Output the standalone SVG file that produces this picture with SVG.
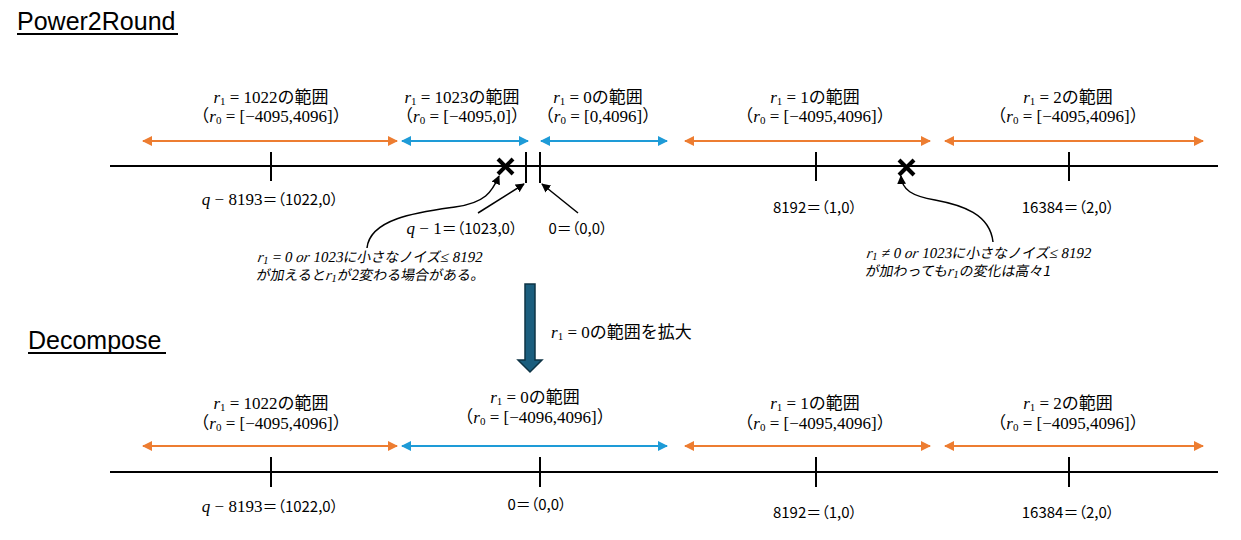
<svg xmlns="http://www.w3.org/2000/svg" width="1241" height="540" viewBox="0 0 1241 540">
<style>
.title{font-family:"Liberation Sans",Arial,sans-serif;font-size:25px;fill:#000}
.ul{stroke:#000;stroke-width:2}
.m{font-family:"Liberation Serif","Noto Sans CJK JP",serif;font-size:17px;fill:#000}
.i{font-style:italic}
.sub{font-size:11px}
.pt{font-family:"Noto Sans CJK JP","Liberation Sans",sans-serif;font-size:15px;fill:#000;font-feature-settings:"palt"}
.jpp{font-family:"Noto Sans CJK JP",sans-serif;font-size:15px;font-feature-settings:"palt"}
.note{font-family:"Liberation Serif","Noto Sans CJK JP",serif;font-size:15px;fill:#000}
.jp{font-family:"Noto Sans CJK JP",sans-serif;font-size:14px}
.axis{stroke:#000;stroke-width:2;fill:none}
.tick{stroke:#000;stroke-width:2}
.org{stroke:#ED7D31;stroke-width:2;fill:none}
.blu{stroke:#1E9BD7;stroke-width:2;fill:none}
.blk{stroke:#000;stroke-width:1.5;fill:none}
.x{stroke:#000;stroke-width:4;stroke-linecap:butt}
</style>
<defs>
<marker id="ao" viewBox="0 0 10 10" refX="9" refY="5" markerWidth="5" markerHeight="5" orient="auto-start-reverse" markerUnits="strokeWidth"><path d="M0,0 L10,5 L0,10 z" fill="#ED7D31"/></marker>
<marker id="ab" viewBox="0 0 10 10" refX="9" refY="5" markerWidth="5" markerHeight="5" orient="auto-start-reverse" markerUnits="strokeWidth"><path d="M0,0 L10,5 L0,10 z" fill="#1E9BD7"/></marker>
<marker id="ak" viewBox="0 0 10 10" refX="9" refY="5" markerWidth="6" markerHeight="6" orient="auto" markerUnits="strokeWidth"><path d="M0,0 L10,5 L0,10 z" fill="#000"/></marker>
</defs>

<g id="title-power2round">
<text class="title" x="17" y="30">Power2Round</text>
<line class="ul" x1="17" y1="34" x2="178" y2="34"/>
</g>
<g id="title-decompose">
<text class="title" x="28" y="349">Decompose</text>
<line class="ul" x1="28" y1="353" x2="166" y2="353"/>
</g>

<g id="top-axis">
<line class="axis" x1="110" y1="166" x2="1218" y2="166"/>
<line class="tick" x1="271" y1="152" x2="271" y2="181"/>
<line class="tick" x1="526" y1="152" x2="526" y2="183"/>
<line class="tick" x1="540" y1="152" x2="540" y2="183"/>
<line class="tick" x1="816" y1="152" x2="816" y2="181"/>
<line class="tick" x1="1069" y1="152" x2="1069" y2="181"/>
</g>
<g id="x-marks">
<line class="x" x1="498" y1="159" x2="513" y2="174"/>
<line class="x" x1="513" y1="159" x2="498" y2="174"/>
<line class="x" x1="899" y1="160" x2="914" y2="175"/>
<line class="x" x1="914" y1="160" x2="899" y2="175"/>
</g>

<g id="top-r1-1022">
<text class="m" x="271" y="103" text-anchor="middle"><tspan class="i">r</tspan><tspan class="sub" dy="2">1</tspan><tspan dy="-2"> = 1022の範囲</tspan><tspan x="271" dy="19">（</tspan><tspan class="i">r</tspan><tspan class="sub" dy="2">0</tspan><tspan dy="-2"> = [−4095,4096]）</tspan></text>
</g>
<g id="top-r1-1023">
<text class="m" x="462" y="103" text-anchor="middle"><tspan class="i">r</tspan><tspan class="sub" dy="2">1</tspan><tspan dy="-2"> = 1023の範囲</tspan><tspan x="462" dy="19">（</tspan><tspan class="i">r</tspan><tspan class="sub" dy="2">0</tspan><tspan dy="-2"> = [−4095,0]）</tspan></text>
</g>
<g id="top-r1-0">
<text class="m" x="598" y="103" text-anchor="middle"><tspan class="i">r</tspan><tspan class="sub" dy="2">1</tspan><tspan dy="-2"> = 0の範囲</tspan><tspan x="598" dy="19">（</tspan><tspan class="i">r</tspan><tspan class="sub" dy="2">0</tspan><tspan dy="-2"> = [0,4096]）</tspan></text>
</g>
<g id="top-r1-1">
<text class="m" x="815" y="103" text-anchor="middle"><tspan class="i">r</tspan><tspan class="sub" dy="2">1</tspan><tspan dy="-2"> = 1の範囲</tspan><tspan x="815" dy="19">（</tspan><tspan class="i">r</tspan><tspan class="sub" dy="2">0</tspan><tspan dy="-2"> = [−4095,4096]）</tspan></text>
</g>
<g id="top-r1-2">
<text class="m" x="1068" y="103" text-anchor="middle"><tspan class="i">r</tspan><tspan class="sub" dy="2">1</tspan><tspan dy="-2"> = 2の範囲</tspan><tspan x="1068" dy="19">（</tspan><tspan class="i">r</tspan><tspan class="sub" dy="2">0</tspan><tspan dy="-2"> = [−4095,4096]）</tspan></text>
</g>

<g id="top-points">
<text class="m" x="270" y="205" text-anchor="middle"><tspan class="i">q</tspan> − 8193<tspan class="jpp">＝（1022,0）</tspan></text>
<text class="m" x="462" y="234" text-anchor="middle"><tspan class="i">q</tspan> − 1<tspan class="jpp">＝（1023,0）</tspan></text>
<text class="pt" x="578" y="234" text-anchor="middle">0＝（0,0）</text>
<text class="pt" x="815" y="213" text-anchor="middle">8192＝（1,0）</text>
<text class="pt" x="1068" y="213" text-anchor="middle">16384＝（2,0）</text>
</g>

<g id="note-left">
<text class="note" transform="translate(257,262) skewX(-10)"><tspan class="i">r</tspan><tspan class="sub" dy="2">1</tspan><tspan dy="-2"> = 0 </tspan><tspan class="i">or</tspan> 1023<tspan class="jp">に小さなノイズ</tspan>≤ 8192<tspan x="2" dy="18" class="jp">が加えると</tspan><tspan class="i">r</tspan><tspan class="sub" dy="2">1</tspan><tspan class="jp" dy="-2">が2変わる場合がある。</tspan></text>
</g>
<g id="note-right">
<text class="note" transform="translate(866,258) skewX(-10)"><tspan class="i">r</tspan><tspan class="sub" dy="2">1</tspan><tspan dy="-2"> ≠ 0 </tspan><tspan class="i">or</tspan> 1023<tspan class="jp">に小さなノイズ</tspan>≤ 8192<tspan x="2" dy="18" class="jp">が加わっても</tspan><tspan class="i">r</tspan><tspan class="sub" dy="2">1</tspan><tspan class="jp" dy="-2">の変化は高々1</tspan></text>
</g>

<g id="expand-arrow">
<path d="M525,284 L535,284 L535,360 L542,360 L530,372 L518,360 L525,360 Z" fill="#1B5E7E" stroke="#0E3445" stroke-width="1.5"/>
<text class="m" x="551" y="338"><tspan class="i">r</tspan><tspan class="sub" dy="2">1</tspan><tspan dy="-2"> = 0の範囲を拡大</tspan></text>
</g>

<g id="bottom-axis">
<line class="axis" x1="110" y1="472" x2="1218" y2="472"/>
<line class="tick" x1="271" y1="457" x2="271" y2="487"/>
<line class="tick" x1="540" y1="457" x2="540" y2="487"/>
<line class="tick" x1="816" y1="457" x2="816" y2="487"/>
<line class="tick" x1="1069" y1="457" x2="1069" y2="487"/>
</g>
<g id="bot-r1-1022">
<text class="m" x="271" y="409" text-anchor="middle"><tspan class="i">r</tspan><tspan class="sub" dy="2">1</tspan><tspan dy="-2"> = 1022の範囲</tspan><tspan x="271" dy="20">（</tspan><tspan class="i">r</tspan><tspan class="sub" dy="2">0</tspan><tspan dy="-2"> = [−4095,4096]）</tspan></text>
</g>
<g id="bot-r1-0">
<text class="m" x="535" y="403" text-anchor="middle"><tspan class="i">r</tspan><tspan class="sub" dy="2">1</tspan><tspan dy="-2"> = 0の範囲</tspan><tspan x="535" dy="20">（</tspan><tspan class="i">r</tspan><tspan class="sub" dy="2">0</tspan><tspan dy="-2"> = [−4096,4096]）</tspan></text>
</g>
<g id="bot-r1-1">
<text class="m" x="815" y="409" text-anchor="middle"><tspan class="i">r</tspan><tspan class="sub" dy="2">1</tspan><tspan dy="-2"> = 1の範囲</tspan><tspan x="815" dy="20">（</tspan><tspan class="i">r</tspan><tspan class="sub" dy="2">0</tspan><tspan dy="-2"> = [−4095,4096]）</tspan></text>
</g>
<g id="bot-r1-2">
<text class="m" x="1068" y="409" text-anchor="middle"><tspan class="i">r</tspan><tspan class="sub" dy="2">1</tspan><tspan dy="-2"> = 2の範囲</tspan><tspan x="1068" dy="20">（</tspan><tspan class="i">r</tspan><tspan class="sub" dy="2">0</tspan><tspan dy="-2"> = [−4095,4096]）</tspan></text>
</g>
<g id="bottom-points">
<text class="m" x="270" y="512" text-anchor="middle"><tspan class="i">q</tspan> − 8193<tspan class="jpp">＝（1022,0）</tspan></text>
<text class="pt" x="537" y="510" text-anchor="middle">0＝（0,0）</text>
<text class="pt" x="815" y="518" text-anchor="middle">8192＝（1,0）</text>
<text class="pt" x="1068" y="518" text-anchor="middle">16384＝（2,0）</text>
</g>

<g id="connectors">
<line class="org" x1="143" y1="141" x2="397" y2="141" marker-start="url(#ao)" marker-end="url(#ao)"/>
<line class="blu" x1="402" y1="141" x2="528" y2="141" marker-start="url(#ab)" marker-end="url(#ab)"/>
<line class="blu" x1="541" y1="141" x2="667" y2="141" marker-start="url(#ab)" marker-end="url(#ab)"/>
<line class="org" x1="685" y1="141" x2="930" y2="141" marker-start="url(#ao)" marker-end="url(#ao)"/>
<line class="org" x1="945" y1="141" x2="1203" y2="141" marker-start="url(#ao)" marker-end="url(#ao)"/>
<line class="org" x1="143" y1="446" x2="397" y2="446" marker-start="url(#ao)" marker-end="url(#ao)"/>
<line class="blu" x1="402" y1="446" x2="667" y2="446" marker-start="url(#ab)" marker-end="url(#ab)"/>
<line class="org" x1="685" y1="446" x2="930" y2="446" marker-start="url(#ao)" marker-end="url(#ao)"/>
<line class="org" x1="945" y1="446" x2="1203" y2="446" marker-start="url(#ao)" marker-end="url(#ao)"/>
<path class="blk" d="M367,248 C370,218 420,212 455,207 C485,203 492,192 499,176" marker-end="url(#ak)"/>
<line class="blk" x1="478" y1="213" x2="524" y2="184" marker-end="url(#ak)"/>
<line class="blk" x1="578" y1="213" x2="542" y2="184" marker-end="url(#ak)"/>
<path class="blk" d="M993,242 C990,214 962,205 935,200 C912,196 902,190 901,176" marker-end="url(#ak)"/>
</g>
</svg>
